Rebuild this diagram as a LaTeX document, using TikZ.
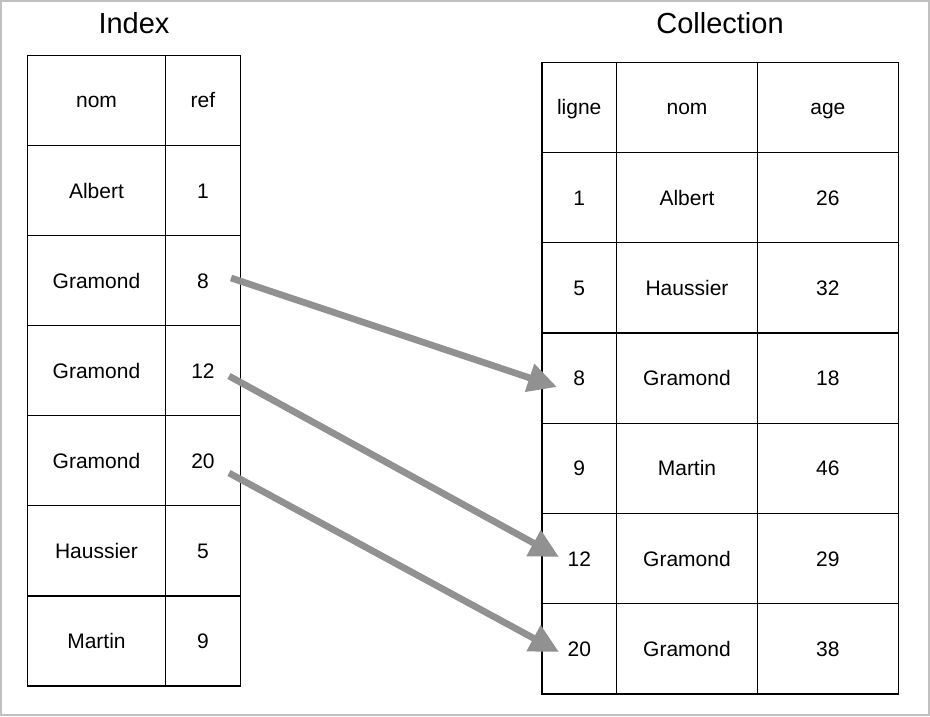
\documentclass[tikz,border=0pt]{standalone}
\usepackage{fontspec}
\setmainfont{Liberation Sans}
\usetikzlibrary{arrows.meta}
\definecolor{arrowgray}{RGB}{145,145,145}
\definecolor{framegray}{RGB}{192,192,192}
\begin{document}
\begin{tikzpicture}[x=1pt,y=-1pt,
  cell/.style={draw=black,line width=1.2pt,inner sep=0pt,
    text height=14.8pt,text depth=0pt,font=\fontsize{21}{25}\selectfont},
  title/.style={font=\fontsize{29}{34}\selectfont,inner sep=0pt,text height=21pt,text depth=0pt},
  link/.style={draw=arrowgray,line width=6.7pt,line cap=butt,
    -{Triangle[length=29pt,width=28pt]}}]
\useasboundingbox (0,0) rectangle (930,716);
\draw[framegray,line width=2pt] (1,1) rectangle (929,715);
% titles
\node[title] (tIndex) at (134,23) {Index};
\node[title] (tColl) at (720,23) {Collection};
% left table
\foreach \n/\r [count=\i] in {nom/ref,Albert/1,Gramond/8,Gramond/12,Gramond/20,Haussier/5,Martin/9}{
  \pgfmathsetmacro{\yy}{55.5+90.07*\i-45.035}
  \node[cell,minimum width=138pt,minimum height=90.07pt] (Ln\i) at (96.5,\yy) {\n};
  \node[cell,minimum width=75pt,minimum height=90.07pt] (Lr\i) at (203,\yy) {\r};
}
% right table
\foreach \l/\n/\a [count=\i] in {ligne/nom/age,1/Albert/26,5/Haussier/32,8/Gramond/18,9/Martin/46,12/Gramond/29,20/Gramond/38}{
  \pgfmathsetmacro{\yy}{62.3+90.24*\i-45.12}
  \node[cell,minimum width=74.5pt,minimum height=90.24pt] (Rl\i) at (579.25,\yy) {\l};
  \node[cell,minimum width=141pt,minimum height=90.24pt] (Rn\i) at (687,\yy) {\n};
  \node[cell,minimum width=140.8pt,minimum height=90.24pt] (Ra\i) at (827.9,\yy) {\a};
}
% arrows
\coordinate (s1) at (231,278);
\coordinate (e1) at (557,387);
\coordinate (s2) at (229,376);
\coordinate (e2) at (559,557);
\coordinate (s3) at (229,473);
\coordinate (e3) at (559,652);
\draw[link] (s1) -- (e1);
\draw[link] (s2) -- (e2);
\draw[link] (s3) -- (e3);
\end{tikzpicture}
\end{document}
